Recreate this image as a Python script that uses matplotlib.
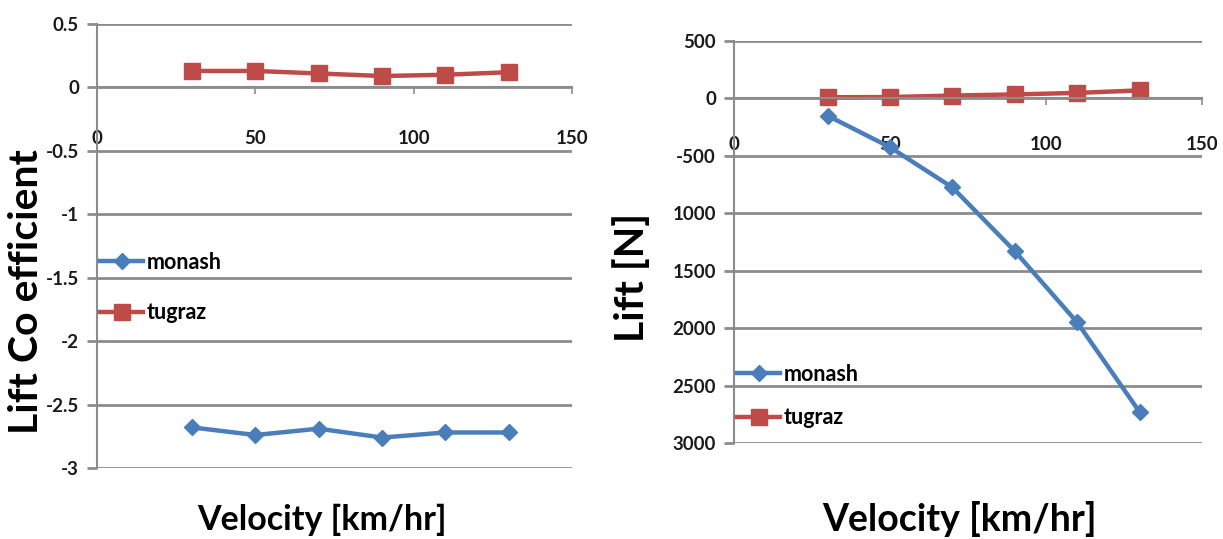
import matplotlib
matplotlib.use("Agg")
import matplotlib.pyplot as plt

plt.rcParams['font.family'] = ['Lato', 'DejaVu Sans']

# velocities shared by both panels
velocity = [30, 50, 70, 90, 110, 130]

# lift coefficient
cl_monash = [-2.68, -2.74, -2.69, -2.76, -2.72, -2.72]
cl_tugraz = [0.13, 0.13, 0.11, 0.09, 0.10, 0.12]

# lift force [N]
lift_monash = [-150, -425, -775, -1330, -1950, -2730]
lift_tugraz = [10, 12, 25, 35, 48, 70]

x_ticks = [0, 50, 100, 150]
cl_ticks = [0.5, 0, -0.5, -1, -1.5, -2, -2.5, -3]
cl_ticklabels = ['0.5', '0', '-0.5', '-1', '-1.5', '-2', '-2.5', '-3']
lift_ticks = [500, 0, -500, -1000, -1500, -2000, -2500, -3000]
lift_ticklabels = ['500', '0', '-500', '1000', '1500', '2000', '2500', '3000']

blue = '#4a7ebb'
red = '#be4b48'
grey = '#8c8c8c'

W, H = 1223, 539
fig = plt.figure(figsize=(W / 100, H / 100), dpi=100)

ax1 = fig.add_axes([97 / W, 1 - 468 / H, (572 - 97) / W, (468 - 24) / H])
ax2 = fig.add_axes([734 / W, 1 - 443 / H, (1202 - 734) / W, (443 - 41) / H])


def style(ax, yticks, yticklabels, ylim, pad):
    ax.set_xlim(0, 150)
    ax.set_ylim(*ylim)
    for s in ['top', 'right']:
        ax.spines[s].set_visible(False)
    ax.spines['bottom'].set_position(('data', 0))
    ax.spines['bottom'].set_color(grey)
    ax.spines['left'].set_color(grey)
    ax.spines['bottom'].set_linewidth(1.5)
    ax.spines['left'].set_linewidth(1.5)
    ax.set_xticks(x_ticks)
    ax.set_yticks(yticks)
    ax.set_yticklabels(yticklabels)
    ax.yaxis.grid(True, color=grey, linewidth=2)
    ax.set_axisbelow(True)
    ax.tick_params(axis='x', direction='out', length=5, width=1.2, color=grey,
                   pad=pad, labelsize=13.5)
    ax.tick_params(axis='y', direction='out', length=7, width=2, color=grey,
                   pad=6, labelsize=13.5)
    for lab in ax.get_xticklabels() + ax.get_yticklabels():
        lab.set_fontweight('bold')
        lab.set_color('#1a1a1a')


style(ax1, cl_ticks, cl_ticklabels, (-3, 0.5), 26)
style(ax2, lift_ticks, lift_ticklabels, (-3000, 500), 22)

ax1.plot(velocity, cl_monash, color=blue, linewidth=3.2, marker='D', markersize=8,
         label='monash')
ax1.plot(velocity, cl_tugraz, color=red, linewidth=3.2, marker='s', markersize=11,
         label='tugraz')
ax2.plot(velocity, lift_monash, color=blue, linewidth=3.2, marker='D', markersize=8,
         label='monash')
ax2.plot(velocity, lift_tugraz, color=red, linewidth=3.2, marker='s', markersize=11,
         label='tugraz')

leg_font = {'weight': 'bold', 'size': 15.5}
ax1.legend(loc='center left', bbox_to_anchor=(0.007, 0.4065), frameon=False,
           prop=leg_font, handlelength=2.0, handletextpad=0.15, labelspacing=1.35,
           borderaxespad=0, borderpad=0)
ax2.legend(loc='center left', bbox_to_anchor=(0.007, 0.117), frameon=False,
           prop=leg_font, handlelength=2.0, handletextpad=0.15, labelspacing=1.05,
           borderaxespad=0, borderpad=0)

fig.text(27 / W, 1 - 292 / H, 'Lift Co efficient', rotation=90, ha='center',
         va='center', fontsize=29.5, fontweight='bold')
fig.text(632 / W, 1 - 277 / H, 'Lift [N]', rotation=90, ha='center',
         va='center', fontsize=29.5, fontweight='bold')
fig.text(322 / W, 1 - 520 / H, 'Velocity [km/hr]', ha='center', va='center',
         fontsize=24.5, fontweight='bold')
fig.text(960 / W, 1 - 519 / H, 'Velocity [km/hr]', ha='center', va='center',
         fontsize=27, fontweight='bold')

fig.savefig('out.png', dpi=100)
